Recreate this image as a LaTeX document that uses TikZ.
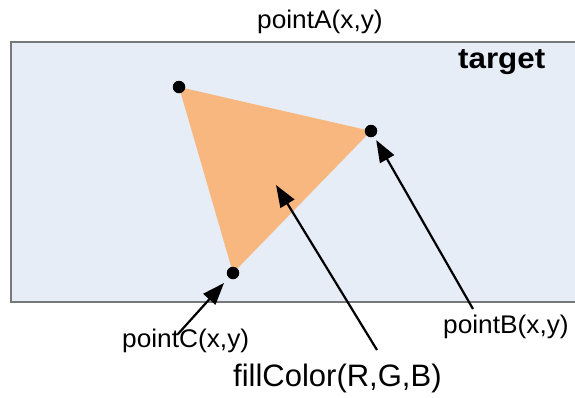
\documentclass[tikz,border=0pt]{standalone}
\usepackage{fontspec}
\setmainfont{Liberation Sans}
\newfontfamily\lblfont[FakeStretch=1.03]{Liberation Sans}
\newfontfamily\tgtfont[FakeStretch=1.08]{Liberation Sans}
\usetikzlibrary{arrows.meta}
\definecolor{targetbg}{RGB}{230,237,247}
\definecolor{trifill}{RGB}{248,183,126}
\definecolor{framegray}{RGB}{120,120,120}
\begin{document}
\begin{tikzpicture}[x=1pt,y=-1pt,
  vertex/.style={circle,fill=black,inner sep=0pt,minimum size=12.5pt},
  lbl/.style={inner sep=0pt,anchor=base west,font=\lblfont\fontsize{25.5}{30}\selectfont},
  ptr/.style={line width=2.2pt,-{Triangle[length=22pt,width=16pt]}}]
\useasboundingbox (0,0) rectangle (575,397);
\fill[targetbg] (11,42) rectangle (580,302);
\draw[framegray,line width=1.8pt] (580,42) -- (11,42) -- (11,302) -- (580,302);
\node[inner sep=0pt,anchor=base west,font=\tgtfont\bfseries\fontsize{29}{34}\selectfont] (target) at (458,68) {target};
\coordinate (a) at (179,87);
\coordinate (b) at (371,131);
\coordinate (c) at (233,273);
\fill[trifill] (a) -- (b) -- (c) -- cycle;
\node[vertex] (dotA) at (a) {};
\node[vertex] (dotB) at (b) {};
\node[vertex] (dotC) at (c) {};
\node[lbl] (labA) at (257,28) {pointA(x,y)};
\node[lbl] (labB) at (443,333) {pointB(x,y)};
\node[lbl] (labC) at (122,347) {pointC(x,y)};
\node[inner sep=0pt,anchor=base west,font=\fontsize{31}{36}\selectfont] (labFill) at (233,386) {fillColor(R,G,B)};
\coordinate (tailB) at (473,309);
\coordinate (tailC) at (178,334);
\coordinate (tailFill) at (377,350);
\coordinate (inside) at (276,185);
\draw[ptr,shorten >=4pt] (tailB) -- (dotB);
\draw[ptr,shorten >=7pt] (tailC) -- (dotC);
\draw[ptr] (tailFill) -- (inside);
\end{tikzpicture}
\end{document}
